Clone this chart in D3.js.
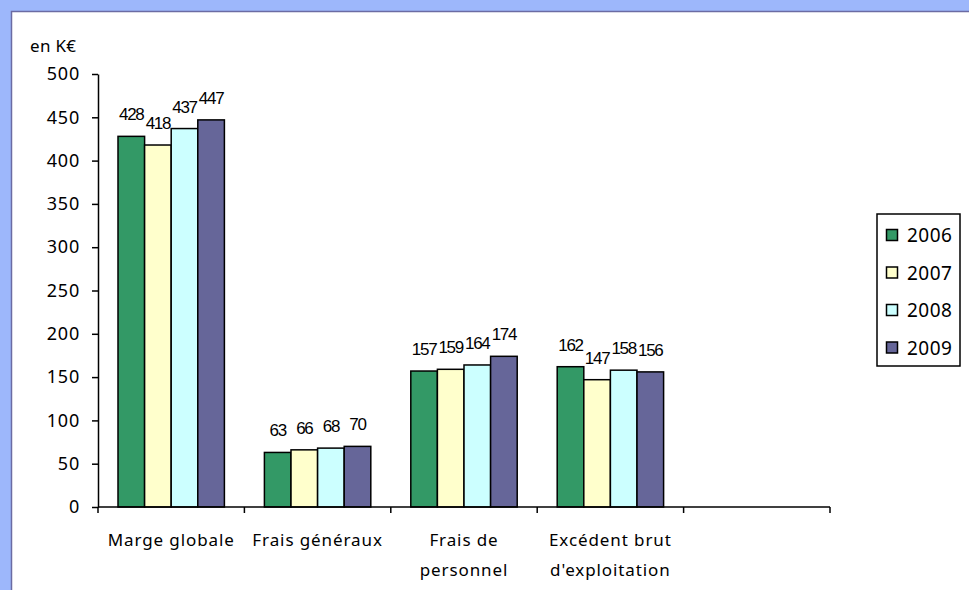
<!DOCTYPE html>
<html>
<head>
<meta charset="utf-8">
<script src="https://cdn.jsdelivr.net/npm/d3@7"></script>
<style>
  body { margin: 0; background: #9db7fb; }
  svg { display: block; }
</style>
</head>
<body>
<svg id="chart" width="969" height="590"></svg>
<script>
const categories = [["Marge globale"], ["Frais généraux"], ["Frais de", "personnel"], ["Excédent brut", "d'exploitation"], [""]];
const years = ["2006", "2007", "2008", "2009"];
const values2006 = [428, 63, 157, 162];
const values2007 = [418, 66, 159, 147];
const values2008 = [437, 68, 164, 158];
const values2009 = [447, 70, 174, 156];
const yTicks = [0, 50, 100, 150, 200, 250, 300, 350, 400, 450, 500];
const colors = ["#339966", "#ffffcc", "#ccffff", "#666699"];

const series = [values2006, values2007, values2008, values2009];

const svg = d3.select("#chart");

// panel
svg.append("rect")
    .attr("x", 11.5).attr("y", 11.5)
    .attr("width", 969).attr("height", 590)
    .attr("fill", "#fff")
    .attr("stroke", "#6b6ba3")
    .attr("stroke-width", 1.5);

const margin = { left: 98, top: 74, right: 830, bottom: 507 };

const x = d3.scaleBand()
    .domain(d3.range(categories.length))
    .range([margin.left, margin.right]);

const xInner = d3.scaleBand()
    .domain(years)
    .range([20, x.bandwidth() - 20]);

const y = d3.scaleLinear()
    .domain([0, 500])
    .range([margin.bottom, margin.top]);

const groups = svg.append("g")
    .selectAll("g")
    .data(series[0].map((_, i) => i))
    .join("g")
    .attr("transform", i => `translate(${x(i)},0)`);

groups.selectAll("rect")
    .data(i => series.map((s, k) => ({ year: years[k], value: s[i], color: colors[k] })))
    .join("rect")
    .attr("x", d => xInner(d.year))
    .attr("y", d => y(d.value))
    .attr("width", xInner.bandwidth())
    .attr("height", d => y(0) - y(d.value))
    .attr("fill", d => d.color)
    .attr("stroke", "#000")
    .attr("stroke-width", 1.5);

groups.selectAll("text")
    .data(i => series.map((s, k) => ({ year: years[k], value: s[i] })))
    .join("text")
    .attr("x", d => xInner(d.year) + xInner.bandwidth() / 2)
    .attr("y", d => y(d.value) - 16)
    .attr("text-anchor", "middle")
    .attr("font-family", "Liberation Sans, Arial, sans-serif")
    .attr("font-size", 17)
    .attr("letter-spacing", -1.3)
    .attr("fill", "#000")
    .text(d => d.value);

// y axis
const yAxis = svg.append("g")
    .attr("transform", `translate(${margin.left},0)`)
    .call(d3.axisLeft(y).tickValues(yTicks).tickSize(6).tickSizeOuter(0).tickPadding(12));
yAxis.select(".domain").attr("stroke", "#000").attr("stroke-width", 1.5);
yAxis.selectAll(".tick line").attr("stroke", "#000").attr("stroke-width", 1.5);
yAxis.selectAll(".tick text")
    .attr("font-family", "Noto Sans, sans-serif")
    .attr("font-size", 18)
    .attr("letter-spacing", 0.8)
    .attr("fill", "#000");

// x axis
svg.append("line")
    .attr("x1", margin.left).attr("x2", margin.right)
    .attr("y1", y(0)).attr("y2", y(0))
    .attr("stroke", "#000").attr("stroke-width", 1.5);

svg.append("g")
    .selectAll("line")
    .data(d3.range(categories.length + 1))
    .join("line")
    .attr("x1", i => margin.left + i * x.step())
    .attr("x2", i => margin.left + i * x.step())
    .attr("y1", y(0)).attr("y2", y(0) + 6)
    .attr("stroke", "#000").attr("stroke-width", 1.5);

svg.append("g")
    .selectAll("text")
    .data(categories)
    .join("text")
    .attr("x", (d, i) => x(i) + x.bandwidth() / 2)
    .attr("y", 546)
    .attr("text-anchor", "middle")
    .attr("font-family", "Noto Sans, sans-serif")
    .attr("font-size", 17)
    .attr("letter-spacing", 0.9)
    .attr("fill", "#000")
    .each(function(d) {
        d3.select(this).selectAll("tspan")
            .data(d)
            .join("tspan")
            .attr("x", d3.select(this).attr("x"))
            .attr("dy", (t, j) => j === 0 ? 0 : 30)
            .text(t => t);
    });

// unit label
svg.append("text")
    .attr("x", 30).attr("y", 52)
    .attr("font-family", "Noto Sans, sans-serif")
    .attr("font-size", 17)
    .attr("letter-spacing", 0.3)
    .attr("fill", "#000")
    .text("en K€");

// legend
const legend = svg.append("g").attr("transform", "translate(877,214)");
legend.append("rect")
    .attr("width", 83).attr("height", 152)
    .attr("fill", "#fff")
    .attr("stroke", "#000")
    .attr("stroke-width", 1.5);

const legendItems = legend.selectAll("g")
    .data(years)
    .join("g")
    .attr("transform", (d, i) => `translate(0,${21 + i * 37.5})`);

legendItems.append("rect")
    .attr("x", 9.5).attr("y", -5.5)
    .attr("width", 11).attr("height", 11)
    .attr("fill", (d, i) => colors[i])
    .attr("stroke", "#000")
    .attr("stroke-width", 1.5);

legendItems.append("text")
    .attr("x", 30).attr("y", 7)
    .attr("font-family", "Noto Sans, sans-serif")
    .attr("font-size", 19)
    .attr("letter-spacing", 0.5)
    .attr("fill", "#000")
    .text(d => d);
</script>
</body>
</html>
